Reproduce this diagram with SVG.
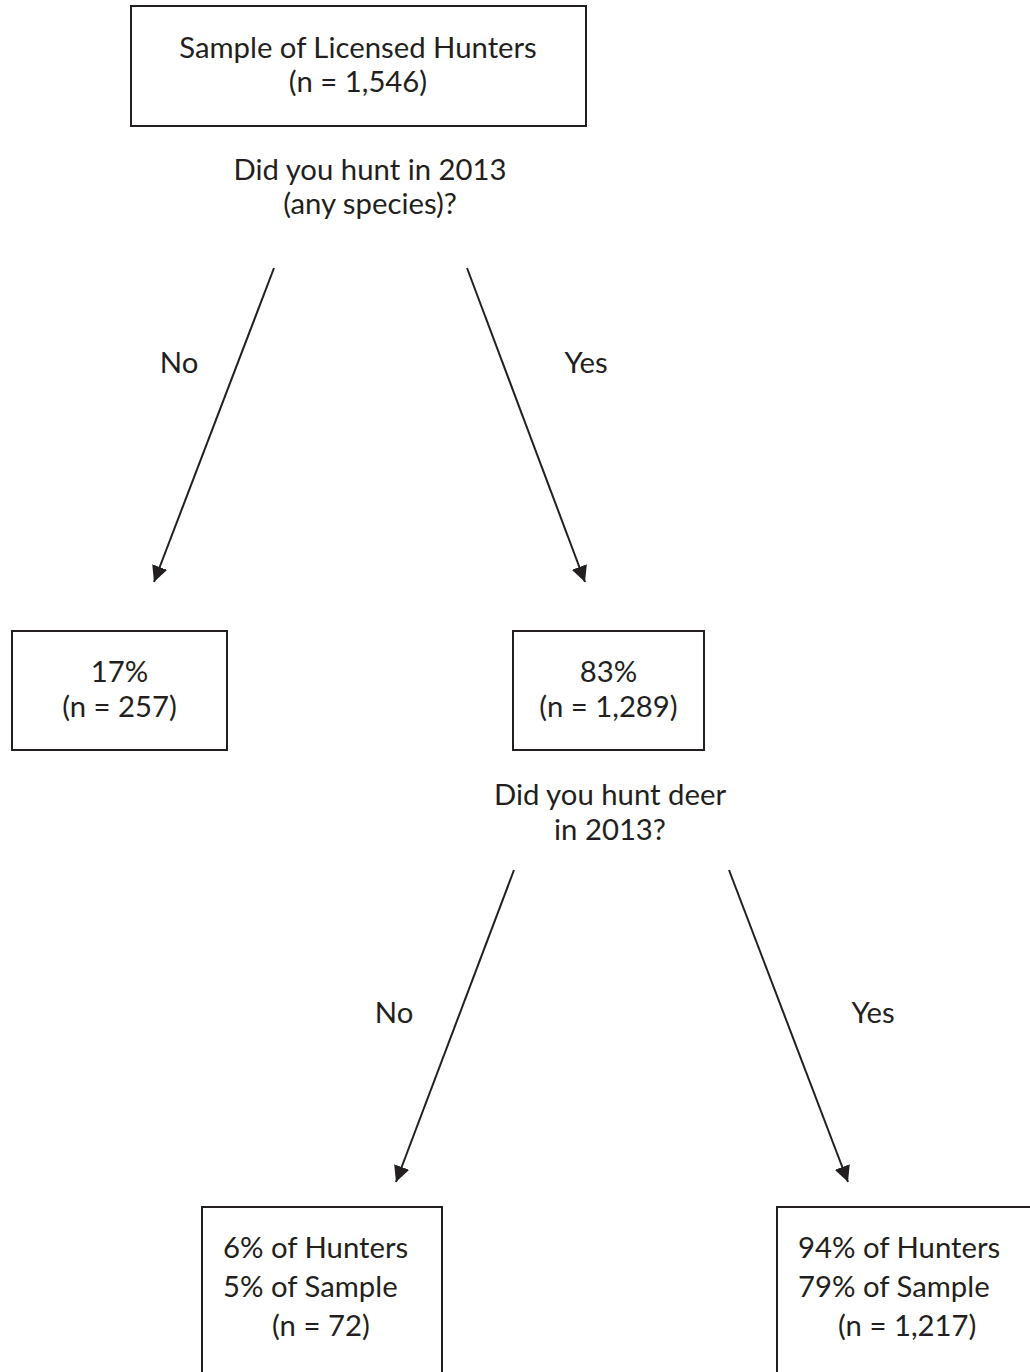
<svg xmlns="http://www.w3.org/2000/svg" width="1030" height="1372" viewBox="0 0 1030 1372">
<style>
.box{fill:#fff;stroke:#231f20;stroke-width:2}
.t{font-family:Lato,"Liberation Sans",sans-serif;font-size:29.3px;fill:#231f20;text-anchor:middle}
.ts{font-family:Lato,"Liberation Sans",sans-serif;font-size:29.3px;fill:#231f20}
.c{stroke:#231f20;stroke-width:2;fill:none;marker-end:url(#ah)}
</style>
<defs>
<marker id="ah" viewBox="0 0 16 16" refX="16" refY="8" markerWidth="16" markerHeight="16" markerUnits="userSpaceOnUse" orient="auto">
<path d="M0,0 L16,8 L0,16 z" fill="#231f20"/>
</marker>
</defs>
<rect width="1030" height="1372" fill="#fff"/>
<g id="connectors">
<line class="c" x1="274" y1="268" x2="154" y2="582"/>
<line class="c" x1="467" y1="268" x2="585" y2="582"/>
<line class="c" x1="514" y1="870" x2="396" y2="1182"/>
<line class="c" x1="729" y1="870" x2="848" y2="1182"/>
<text class="t" x="179" y="373">No</text>
<text class="t" x="586" y="373">Yes</text>
<text class="t" x="394" y="1023">No</text>
<text class="t" x="873" y="1023">Yes</text>
</g>
<g id="root">
<rect class="box" x="131" y="6" width="455" height="120"/>
<text class="t" x="358" y="58">Sample of Licensed Hunters</text>
<text class="t" x="358" y="92">(n = 1,546)</text>
</g>
<g id="q1">
<text class="t" x="370" y="180">Did you hunt in 2013</text>
<text class="t" x="370" y="214">(any species)?</text>
</g>
<g id="no1">
<rect class="box" x="12" y="631" width="215" height="119"/>
<text class="t" x="119.5" y="682">17%</text>
<text class="t" x="119.5" y="717">(n = 257)</text>
</g>
<g id="yes1">
<rect class="box" x="513" y="631" width="191" height="119"/>
<text class="t" x="608.5" y="682">83%</text>
<text class="t" x="608.5" y="717">(n = 1,289)</text>
</g>
<g id="q2">
<text class="t" x="610" y="805">Did you hunt deer</text>
<text class="t" x="610" y="840">in 2013?</text>
</g>
<g id="no2">
<rect class="box" x="202" y="1207" width="240" height="180"/>
<text class="ts" x="223" y="1258">6% of Hunters</text>
<text class="ts" x="223" y="1297">5% of Sample</text>
<text class="ts" x="272" y="1336">(n = 72)</text>
</g>
<g id="yes2">
<rect class="box" x="777" y="1207" width="270" height="180"/>
<text class="ts" x="798" y="1258">94% of Hunters</text>
<text class="ts" x="798" y="1297">79% of Sample</text>
<text class="ts" x="838" y="1336">(n = 1,217)</text>
</g>
</svg>
